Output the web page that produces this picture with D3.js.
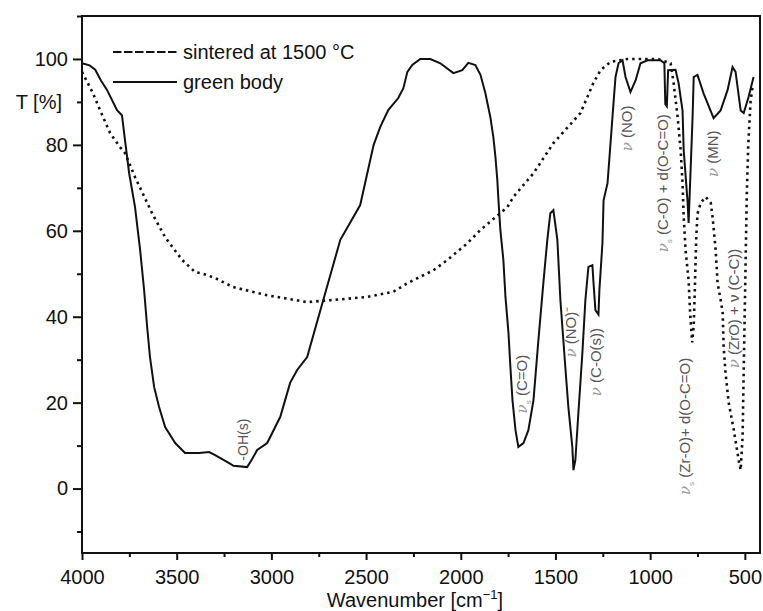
<!DOCTYPE html>
<html>
<head>
<meta charset="utf-8">
<script src="https://cdn.jsdelivr.net/npm/d3@7"></script>
<style>
  body { margin: 0; background: #fff; }
  text { font-family: "Liberation Sans", Arial, sans-serif; }
</style>
</head>
<body>
<div id="chart"></div>
<script>
// green body spectrum (wavenumber, T %)
const greenWn = [4000, 3960, 3930, 3900, 3868, 3815, 3789, 3773, 3751, 3720, 3693, 3672, 3656, 3641, 3619, 3593, 3561, 3508, 3456, 3381, 3329, 3297, 3223, 3200, 3128, 3100, 3075, 3022, 2953, 2901, 2864, 2811, 2726, 2636, 2531, 2460, 2425, 2383, 2330, 2303, 2282, 2256, 2214, 2161, 2108, 2039, 1992, 1960, 1923, 1896, 1870, 1844, 1828, 1817, 1807, 1801, 1791, 1775, 1764, 1748, 1738, 1727, 1711, 1696, 1669, 1643, 1616, 1590, 1564, 1543, 1527, 1511, 1490, 1474, 1448, 1432, 1411, 1405, 1395, 1379, 1358, 1342, 1326, 1305, 1300, 1289, 1273, 1268, 1252, 1246, 1225, 1199, 1183, 1167, 1146, 1130, 1104, 1077, 1051, 1014, 945, 925, 920, 912, 905, 866, 850, 829, 823, 802, 797, 790, 776, 770, 750, 718, 665, 628, 591, 565, 549, 522, 506, 480, 454];
const greenT = [99, 98.5, 97.5, 95, 92.8, 88.1, 86.9, 81.1, 73.4, 65.5, 55.5, 46.2, 37.6, 30.6, 23.6, 19, 14.3, 10.6, 8.3, 8.3, 8.5, 7.8, 5.9, 5.3, 5, 7, 9, 10.6, 16.7, 24.6, 27.6, 30.6, 43.9, 57.9, 66, 80, 84.2, 88.1, 90.9, 93.2, 97, 98.6, 100, 100, 99, 96.7, 97.4, 99.1, 98.6, 96.3, 92, 86.5, 81.8, 77.2, 71.8, 67.1, 60.2, 53.2, 44.6, 36.2, 28.3, 20.6, 13.6, 9.7, 10.6, 13.6, 20.6, 34.6, 47.8, 57.9, 64.1, 64.8, 57.9, 43.9, 28.3, 19, 9.7, 4.3, 6.6, 17.6, 31.5, 43.9, 51.6, 52, 48.5, 41.5, 40.5, 46.2, 57.1, 67.1, 71.1, 86.5, 95.8, 99, 99.7, 95.8, 92.3, 95, 99, 99.7, 99.7, 99, 89.5, 89, 97.4, 97.5, 94.4, 88, 78.8, 66.5, 61.8, 70, 86.5, 95.8, 96.3, 92, 86.2, 88, 92.8, 98.1, 97, 88, 87.4, 91.2, 95.8];

// sintered at 1500 °C spectrum
const sinteredWn = [4000, 3942, 3905, 3852, 3800, 3773, 3720, 3693, 3630, 3561, 3471, 3403, 3360, 3297, 3202, 3022, 2811, 2673, 2494, 2356, 2282, 2145, 2071, 1965, 1896, 1754, 1722, 1616, 1511, 1368, 1300, 1262, 1210, 1120, 960, 892, 876, 855, 839, 829, 823, 813, 797, 788, 778, 770, 765, 757, 750, 733, 707, 680, 670, 654, 644, 628, 617, 612, 602, 585, 575, 560, 545, 530, 522, 512, 505, 497, 490, 482, 470, 458];
const sinteredT = [97, 92, 88.1, 82.8, 79.5, 78.1, 72.5, 70, 64.1, 58.5, 53.2, 50.4, 50, 49, 46.9, 45, 43.4, 43.9, 44.6, 45.8, 47.8, 50.8, 53.2, 57.1, 60.2, 65.5, 67.9, 73.4, 80.4, 87.4, 94.4, 97.4, 99.3, 100, 100, 99, 94.4, 86.5, 78.8, 71.1, 63.3, 55.5, 48.5, 40, 34, 38, 45, 58, 64, 66.5, 67.9, 66.5, 63, 55.5, 47.8, 44, 40.9, 33, 26.9, 19.9, 17.6, 14, 10, 6, 4.3, 12, 30, 50, 68, 80, 90, 94];

const xTicks = [4000, 3500, 3000, 2500, 2000, 1500, 1000, 500];
const xMinor = [3750, 3250, 2750, 2250, 1750, 1250, 750];
const yTicks = [0, 20, 40, 60, 80, 100];
const yMinor = [-10, 10, 30, 50, 70, 90, 110];

// band assignments: nu prefix, subscript, text, wavenumber and T where the label starts
const bandLabels = [
    { nu: "", sub: "", txt: "-OH(s)", wn: 3150, t: 6.5 },
    { nu: "\u03BD", sub: "s", txt: " (C=O)", wn: 1680, t: 17.5 },
    { nu: "\u03BD", sub: "", txt: " (NO)\u207B", wn: 1420, t: 30.5 },
    { nu: "\u03BD", sub: "", txt: " (C-O(s))", wn: 1288, t: 21.5 },
    { nu: "\u03BD", sub: "", txt: " (NO)", wn: 1121, t: 78.5 },
    { nu: "\u03BD", sub: "s", txt: " (C-O) + d(O-C=O)", wn: 935, t: 55 },
    { nu: "\u03BD", sub: "", txt: " (MN)", wn: 670, t: 72.5 },
    { nu: "\u03BD", sub: "s", txt: " (Zr-O)+ d(O-C=O)", wn: 815, t: -1.5 },
    { nu: "\u03BD", sub: "", txt: " (ZrO) + \u03BD (C-C))", wn: 556, t: 28 }
];

const W = 763, H = 611;
const margin = { top: 16, right: 3, bottom: 58, left: 82 };
const width = W - margin.left - margin.right;
const height = H - margin.top - margin.bottom;

const svg = d3.select("#chart")
    .append("svg")
    .attr("width", W)
    .attr("height", H)
    .append("g")
    .attr("transform", `translate(${margin.left},${margin.top})`);

const x = d3.scaleLinear().domain([4000, 420]).range([0, width]);
const y = d3.scaleLinear().domain([-15, 110]).range([height, 0]);

// frame
svg.append("rect")
    .attr("width", width)
    .attr("height", height)
    .attr("fill", "none")
    .attr("stroke", "#111")
    .attr("stroke-width", 2);

// x axis
svg.append("g")
    .attr("transform", `translate(0,${height})`)
    .call(d3.axisBottom(x).tickValues(xTicks).tickSize(7).tickPadding(10).tickFormat(d3.format("d")));
svg.append("g")
    .attr("transform", `translate(0,${height})`)
    .call(d3.axisBottom(x).tickValues(xMinor).tickSize(4).tickFormat(""));

// y axis
svg.append("g")
    .call(d3.axisLeft(y).tickValues(yTicks).tickSize(9).tickPadding(5));
svg.append("g")
    .call(d3.axisLeft(y).tickValues(yMinor).tickSize(5).tickFormat(""));

svg.selectAll(".domain").remove();
svg.selectAll(".tick line").attr("stroke", "#111").attr("stroke-width", 2);
svg.selectAll(".tick text")
    .attr("fill", "#111")
    .style("font-size", "20px");

// axis titles
svg.append("text")
    .attr("x", -20)
    .attr("y", y(90))
    .attr("dy", "0.35em")
    .attr("text-anchor", "end")
    .style("font-size", "20px")
    .attr("fill", "#111")
    .text("T [%]");

const xt = svg.append("text")
    .attr("x", width / 2 - 6)
    .attr("y", height + 54)
    .attr("text-anchor", "middle")
    .style("font-size", "20px")
    .attr("fill", "#111");
xt.append("tspan").text("Wavenumber [cm");
xt.append("tspan").attr("dy", -8).style("font-size", "13px").text("\u22121");
xt.append("tspan").attr("dy", 8).text("]");

// curves
const line = (wn, t) => d3.line()
    .x(i => x(wn[i]))
    .y(i => y(t[i]))(d3.range(wn.length));

svg.append("path")
    .attr("d", line(sinteredWn, sinteredT))
    .attr("fill", "none")
    .attr("stroke", "#111")
    .attr("stroke-width", 2.6)
    .attr("stroke-dasharray", "2.5,4");

svg.append("path")
    .attr("d", line(greenWn, greenT))
    .attr("fill", "none")
    .attr("stroke", "#111")
    .attr("stroke-width", 2);

// band labels, rotated to read bottom-to-top
bandLabels.forEach(b => {
    const t = svg.append("text")
        .attr("transform", `translate(${x(b.wn)},${y(b.t)}) rotate(-90)`)
        .attr("dy", "0.35em")
        .style("font-size", b.nu ? "15px" : "14px")
        .attr("fill", "#555");
    if (b.nu) {
        t.append("tspan")
            .style("font-family", "'DejaVu Serif', serif")
            .style("font-style", "italic")
            .attr("fill", "#999")
            .text(b.nu);
    }
    if (b.sub) {
        t.append("tspan").attr("dy", 4).style("font-size", "8px").attr("fill", "#999").text(b.sub);
        t.append("tspan").attr("dy", -4).text(b.txt);
    } else {
        t.append("tspan").text(b.txt);
    }
});

// legend
const legend = svg.append("g").attr("transform", "translate(31,36)");
legend.append("line")
    .attr("x1", 0).attr("x2", 64).attr("y1", 0).attr("y2", 0)
    .attr("stroke", "#111").attr("stroke-width", 2)
    .attr("stroke-dasharray", "8.5,2.5");
legend.append("text")
    .attr("x", 70).attr("y", 0).attr("dy", "0.35em")
    .style("font-size", "20px").attr("fill", "#111")
    .text("sintered at 1500 \u00B0C");
legend.append("line")
    .attr("x1", 0).attr("x2", 64).attr("y1", 30).attr("y2", 30)
    .attr("stroke", "#111").attr("stroke-width", 2);
legend.append("text")
    .attr("x", 70).attr("y", 30).attr("dy", "0.35em")
    .style("font-size", "20px").attr("fill", "#111")
    .text("green body");
</script>
</body>
</html>
